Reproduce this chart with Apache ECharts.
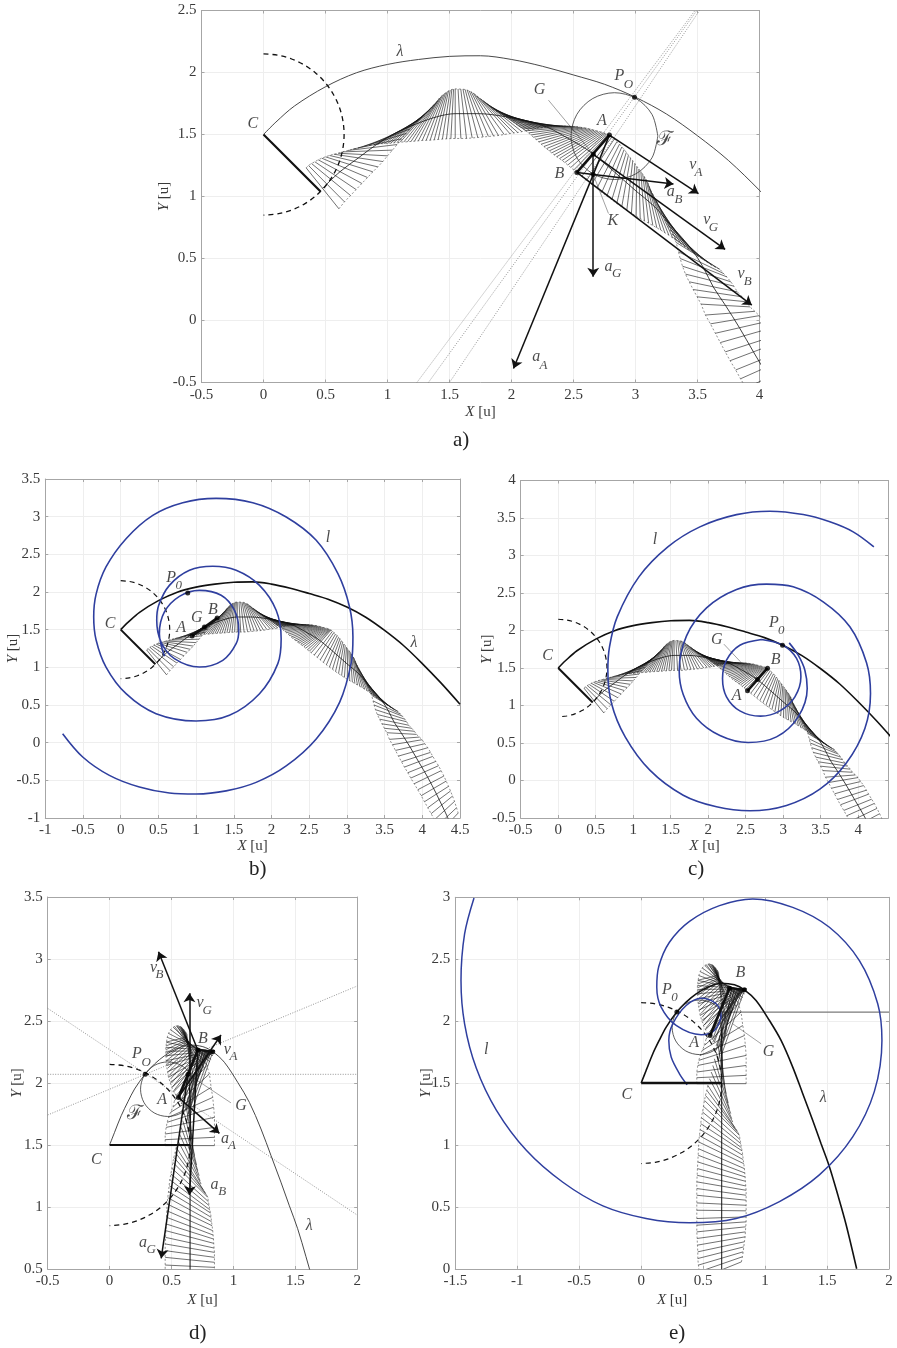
<!DOCTYPE html>
<html><head><meta charset="utf-8">
<style>html,body{margin:0;padding:0;background:#fff}#c{width:897px;height:1348px}</style>
<script src="https://cdn.jsdelivr.net/npm/echarts@6/dist/echarts.min.js"></script>
</head><body><div id="c"></div>
<script>
// ---------- coupler positions, first motion (panels a, b, c) ----------
const band1E1=[[.344,1.231],[.363,1.250],[.387,1.266],[.414,1.280],[.441,1.296],[.470,1.309],[.500,1.320],[.532,1.331],[.567,1.341],[.602,1.349],[.640,1.360],[.680,1.371],[.720,1.382],[.763,1.392],[.806,1.403],[.849,1.411],[.890,1.417],[.918,1.421],[.946,1.425],[.973,1.426],[1.000,1.427],[1.026,1.430],[1.051,1.433],[1.077,1.436],[1.102,1.438],[1.132,1.440],[1.161,1.441],[1.190,1.444],[1.218,1.446],[1.249,1.449],[1.280,1.452],[1.312,1.453],[1.344,1.454],[1.377,1.457],[1.409,1.460],[1.443,1.463],[1.476,1.465],[1.511,1.467],[1.546,1.468],[1.592,1.468],[1.637,1.468],[1.683,1.472],[1.728,1.476],[1.771,1.480],[1.814,1.484],[1.855,1.488],[1.895,1.492],[1.941,1.500],[1.986,1.508],[2.019,1.512],[2.051,1.516],[2.084,1.523],[2.116,1.530],[2.144,1.535],[2.172,1.540],[2.199,1.546],[2.226,1.551],[2.252,1.555],[2.277,1.559],[2.301,1.562],[2.325,1.565],[2.348,1.566],[2.371,1.567],[2.393,1.567],[2.414,1.567],[2.436,1.567],[2.457,1.567],[2.477,1.566],[2.497,1.565],[2.516,1.564],[2.535,1.562],[2.553,1.559],[2.570,1.556],[2.588,1.554],[2.605,1.551],[2.621,1.547],[2.637,1.543],[2.652,1.539],[2.667,1.535],[2.682,1.531],[2.696,1.527],[2.711,1.523],[2.726,1.519],[2.740,1.515],[2.753,1.511],[2.764,1.507],[2.774,1.503],[2.782,1.499],[2.790,1.495],[2.809,1.479],[2.828,1.462],[2.850,1.442],[2.871,1.422],[2.890,1.400],[2.908,1.379],[2.926,1.356],[2.943,1.333],[2.960,1.310],[2.978,1.288],[2.995,1.265],[3.011,1.242],[3.027,1.222],[3.043,1.202],[3.058,1.180],[3.072,1.159],[3.085,1.138],[3.097,1.116],[3.108,1.088],[3.118,1.059],[3.134,1.028],[3.150,.997],[3.167,.963],[3.183,.930],[3.202,.890],[3.220,.849],[3.239,.811],[3.258,.774],[3.277,.735],[3.296,.696],[3.312,.662],[3.328,.629],[3.347,.554],[3.360,.500],[3.379,.438],[3.403,.374],[3.433,.312],[3.465,.250],[3.497,.191],[3.529,.132],[3.564,.044],[3.604,-.027],[3.644,-.103],[3.684,-.178],[3.724,-.253],[3.763,-.324],[3.808,-.399],[3.847,-.470],[3.892,-.545],[3.940,-.625],[3.985,-.704],[4.029,-.784],[4.073,-.864],[4.117,-.943],[4.162,-1.023],[4.206,-1.098],[4.250,-1.173]];
const band1E2=[[.608,.901],[.653,.957],[.702,1.008],[.747,1.056],[.793,1.105],[.839,1.153],[.882,1.199],[.922,1.239],[.962,1.282],[1.000,1.328],[1.040,1.374],[1.078,1.419],[1.113,1.465],[1.150,1.508],[1.185,1.546],[1.218,1.581],[1.250,1.613],[1.266,1.628],[1.282,1.642],[1.298,1.658],[1.314,1.675],[1.329,1.691],[1.344,1.707],[1.358,1.722],[1.371,1.737],[1.385,1.752],[1.398,1.766],[1.409,1.780],[1.419,1.793],[1.431,1.805],[1.443,1.817],[1.456,1.827],[1.468,1.836],[1.480,1.844],[1.492,1.852],[1.506,1.858],[1.519,1.863],[1.533,1.866],[1.546,1.868],[1.569,1.867],[1.591,1.866],[1.609,1.865],[1.626,1.863],[1.643,1.858],[1.659,1.852],[1.675,1.844],[1.691,1.836],[1.707,1.823],[1.723,1.809],[1.739,1.797],[1.755,1.785],[1.772,1.772],[1.788,1.758],[1.804,1.745],[1.820,1.731],[1.838,1.718],[1.855,1.704],[1.875,1.690],[1.895,1.677],[1.915,1.665],[1.935,1.653],[1.955,1.641],[1.976,1.629],[1.996,1.616],[2.016,1.602],[2.036,1.586],[2.056,1.570],[2.076,1.558],[2.097,1.546],[2.117,1.530],[2.137,1.513],[2.157,1.496],[2.177,1.478],[2.198,1.460],[2.220,1.441],[2.240,1.422],[2.261,1.403],[2.282,1.386],[2.304,1.368],[2.324,1.352],[2.344,1.336],[2.365,1.321],[2.387,1.306],[2.408,1.290],[2.430,1.274],[2.454,1.254],[2.478,1.234],[2.502,1.214],[2.527,1.194],[2.567,1.163],[2.607,1.132],[2.647,1.098],[2.688,1.065],[2.728,1.034],[2.769,1.003],[2.809,.974],[2.849,.944],[2.889,.917],[2.930,.890],[2.967,.865],[3.005,.841],[3.038,.822],[3.072,.804],[3.106,.785],[3.140,.766],[3.172,.747],[3.204,.729],[3.236,.708],[3.269,.688],[3.301,.665],[3.333,.643],[3.366,.618],[3.400,.594],[3.436,.567],[3.473,.540],[3.508,.516],[3.543,.492],[3.579,.469],[3.615,.446],[3.649,.428],[3.683,.411],[3.710,.379],[3.736,.352],[3.769,.312],[3.793,.277],[3.822,.231],[3.860,.191],[3.895,.151],[3.923,.110],[3.962,.074],[3.998,.039],[4.033,-.014],[4.073,-.067],[4.109,-.129],[4.139,-.182],[4.179,-.249],[4.215,-.306],[4.250,-.372],[4.286,-.443],[4.317,-.510],[4.348,-.580],[4.374,-.642],[4.401,-.709],[4.427,-.780],[4.454,-.864],[4.476,-.934]];
const band1Mid=[[.476,1.066],[.617,1.200],[.765,1.311],[.917,1.423],[1.070,1.515],[1.236,1.587],[1.406,1.645],[1.546,1.668],[1.736,1.668],[1.952,1.644],[2.130,1.609],[2.297,1.555],[2.449,1.473],[2.556,1.412],[2.658,1.344],[2.838,1.191],[3.008,1.041],[3.150,.922],[3.291,.762],[3.455,.571],[3.548,.426],[3.627,.271],[3.726,.121],[3.838,-.058],[3.951,-.253],[4.071,-.458],[4.188,-.682],[4.294,-.901],[4.363,-1.053]];
// ---------- coupler positions, second motion (panels d, e) ----------
const band2E1=[[.476,-.078],[.468,-.024],[.462,.030],[.457,.083],[.457,.137],[.454,.191],[.452,.245],[.449,.298],[.449,.352],[.449,.406],[.449,.473],[.449,.532],[.449,.594],[.449,.648],[.449,.702],[.452,.755],[.454,.809],[.457,.863],[.460,.917],[.462,.970],[.465,1.024],[.470,1.075],[.476,1.124],[.481,1.172],[.486,1.220],[.495,1.266],[.503,1.312],[.511,1.360],[.519,1.400],[.530,1.441],[.538,1.481],[.551,1.535],[.565,1.589],[.578,1.642],[.591,1.696],[.605,1.750],[.618,1.817],[.632,1.884],[.645,1.952],[.659,2.019],[.685,2.086],[.712,2.140],[.753,2.194],[.793,2.234],[.833,2.253],
 [.449,1.495],[.449,1.543],[.449,1.589],[.457,1.642],[.465,1.683],[.476,1.723],[.492,1.763],[.511,1.804],[.524,1.857],
 [.624,2.395],[.613,2.414],[.599,2.430],[.586,2.446],[.573,2.457],[.556,2.462],[.538,2.462],[.514,2.449],[.492,2.430],[.476,2.400],[.465,2.368],[.460,2.328],[.454,2.288],[.454,2.256],[.454,2.220],[.457,2.180],[.460,2.140],[.468,2.091],[.476,2.046],[.489,2.005],[.503,1.965],[.519,1.930],[.538,1.898],
 [.457,2.33],[.457,2.30],[.457,2.27],[.457,2.24],[.457,2.21],[.46,2.18],[.463,2.15],[.47,2.12],[.475,2.09],[.48,2.06],[.49,2.03],[.50,2.00],[.51,1.97],[.52,1.94],
 [.525,2.456],[.548,2.46],[.565,2.46],[.58,2.45],[.593,2.438],[.606,2.42],
 [.56,1.87],[.575,1.85],[.59,1.83],[.605,1.80],[.62,1.78],[.635,1.75],[.645,1.72],[.655,1.80],[.665,1.85],[.675,1.90],[.685,1.95],[.695,2.0]];
const band2E2=[[.809,.056],[.817,.097],[.823,.137],[.828,.177],[.833,.218],[.839,.258],[.841,.298],[.844,.339],[.847,.379],[.847,.419],[.847,.468],[.847,.513],[.847,.554],[.847,.594],[.847,.634],[.844,.669],[.841,.707],[.839,.742],[.836,.774],[.833,.809],[.828,.849],[.823,.882],[.820,.917],[.815,.952],[.809,.978],[.804,1.011],[.798,1.043],[.793,1.078],[.782,1.099],[.771,1.118],[.753,1.145],[.739,1.185],[.731,1.212],[.723,1.253],[.712,1.293],[.702,1.339],[.685,1.414],[.672,1.481],[.659,1.548],[.645,1.615],[.627,1.696],[.605,1.763],[.578,1.830],[.556,1.884],[.551,1.897],
 [.847,1.495],[.847,1.562],[.847,1.642],[.847,1.723],[.841,1.804],[.833,1.884],[.820,1.965],[.806,2.073],[.785,2.140],
 [.66,2.0],[.68,2.02],[.71,2.05],[.725,2.07],[.74,2.09],[.765,2.12],[.79,2.14],[.81,2.17],[.82,2.19],[.835,2.22],[.84,2.235],[.845,2.25],[.85,2.26],[.85,2.26],[.85,2.26],[.845,2.26],[.845,2.26],[.84,2.26],[.84,2.26],[.84,2.26],[.835,2.26],[.835,2.26],[.83,2.255],
 [.62,2.37],[.625,2.36],[.63,2.35],[.635,2.345],[.64,2.335],[.645,2.33],[.65,2.31],[.655,2.29],[.66,2.27],[.665,2.25],[.67,2.23],[.675,2.2],[.68,2.18],[.69,2.16],
 [.635,2.31],[.64,2.30],[.645,2.30],[.65,2.29],[.65,2.28],[.655,2.27],
 [.72,2.27],[.74,2.27],[.76,2.265],[.78,2.26],[.80,2.26],[.82,2.26],[.835,2.255],[.73,2.265],[.75,2.26],[.77,2.26],[.79,2.26],[.81,2.26]];
const band2Mid=[[.65,-.1],[.65,.5],[.65,1.0],[.65,1.5],[.652,1.7],[.648,1.9],[.64,2.07]];
// ---------- curves ----------
const lambda1=[[0,1.5],[.1,1.6],[.25,1.73],[.5,1.885],[.75,1.998],[1,2.065],[1.25,2.105],[1.5,2.13],[1.75,2.135],[2,2.105],[2.25,2.05],[2.5,1.98],[2.75,1.905],[3,1.80],[3.25,1.665],[3.5,1.49],[3.75,1.29],[4,1.05],[4.25,.79],[4.5,.51]];
const lambda2=[[0,1.5],[.04,1.602],[.094,1.737],[.148,1.849],[.202,1.952],[.288,2.073],[.363,2.153],[.444,2.22],[.538,2.274],[.645,2.306],[.753,2.293],[.833,2.253],[.927,2.167],[1.035,2.005],[1.129,1.844],[1.223,1.629],[1.304,1.414],[1.384,1.2],[1.452,1.01],[1.519,.825],[1.586,.60],[1.653,.36],[1.739,0]];
const crankArc=[[0,2.15],[.113,2.14],[.222,2.111],[.325,2.063],[.418,1.998],[.498,1.918],[.563,1.825],[.611,1.722],[.64,1.613],[.65,1.5],[.64,1.387],[.611,1.278],[.563,1.175],[.498,1.082],[.418,1.002],[.325,.937],[.222,.889],[.113,.86],[0,.85]];
const spiralB=[[-.770,.119],[-.504,-.190],[-.150,-.434],[.248,-.589],[.646,-.668],[1.0,-.681],[1.398,-.640],[1.796,-.527],[2.195,-.309],[2.593,.049],[2.903,.535],[3.058,1.062],[3.080,1.403],[3.035,1.801],[2.881,2.243],[2.593,2.686],[2.195,2.996],[1.752,3.186],[1.265,3.243],[.823,3.186],[.425,3.018],[.071,2.708],[-.195,2.332],[-.327,1.969],[-.358,1.668],[-.327,1.367],[-.195,1.004],[.071,.650],[.469,.385],[1.0,.288],[1.442,.363],[1.841,.650],[2.084,1.049],[2.128,1.381],[2.062,1.757],[1.841,2.088],[1.531,2.288],[1.221,2.341],[.912,2.288],[.646,2.088],[.504,1.823],[.478,1.624],[.535,1.336],[.712,1.115],[1.044,1.004],[1.354,1.093],[1.531,1.314],[1.566,1.5],[1.509,1.757],[1.332,1.956],[1.044,2.022],[.779,1.942],[.580,1.735],[.513,1.447],[.580,1.146]];
const spiralC=[[4.209,3.115],[3.933,3.315],[3.622,3.449],[3.267,3.546],[2.822,3.591],[2.378,3.545],[1.889,3.382],[1.462,3.115],[1.076,2.715],[.787,2.182],[.684,1.782],[.662,1.471],[.711,1.027],[.893,.582],[1.222,.138],[1.667,-.196],[2.111,-.351],[2.556,-.404],[3.044,-.333],[3.489,-.116],[3.844,.236],[4.089,.693],[4.164,1.160],[4.111,1.569],[3.889,2.049],[3.533,2.382],[3.133,2.582],[2.778,2.618],[2.378,2.547],[1.978,2.302],[1.711,1.929],[1.613,1.471],[1.667,1.147],[1.844,.831],[2.156,.600],[2.533,.507],[2.911,.582],[3.2,.849],[3.320,1.227],[3.289,1.471],[3.2,1.671],[3.08,1.835]];
const spiralCInner=[[2.711,1.880],[3.0,1.804],[3.178,1.627],[3.236,1.382],[3.156,1.116],[2.956,.929],[2.698,.858],[2.422,.929],[2.244,1.116],[2.191,1.36],[2.244,1.604],[2.422,1.804],[2.711,1.880]];
const spiralE=[[-1.349,2.995],[-1.425,2.704],[-1.454,2.328],[-1.425,1.978],[-1.331,1.621],[-1.169,1.282],[-.927,.957],[-.632,.699],[-.309,.508],[.040,.406],[.390,.371],[.766,.406],[1.116,.543],[1.438,.758],[1.707,1.065],[1.882,1.433],[1.943,1.844],[1.909,2.14],[1.761,2.489],[1.519,2.758],[1.223,2.919],[.900,2.987],[.632,2.933],[.390,2.806],[.228,2.637],[.142,2.441],[.126,2.274],[.161,2.113],[.282,1.965],[.484,1.890],[.591,1.925],[.645,2.046],[.605,2.14],[.484,2.185],[.363,2.126],[.255,1.978],[.223,1.844],[.242,1.710],[.309,1.575],[.371,1.486]];
const circleA=[[3.18,1.487],[3.133,1.662],[3.005,1.79],[2.83,1.837],[2.655,1.79],[2.527,1.662],[2.48,1.487],[2.527,1.312],[2.655,1.184],[2.83,1.137],[3.005,1.184],[3.133,1.312],[3.18,1.487]];
const circleD=[[.69,1.95],[.661,2.06],[.58,2.141],[.47,2.17],[.36,2.141],[.279,2.06],[.25,1.95],[.279,1.84],[.36,1.759],[.47,1.73],[.58,1.759],[.661,1.84],[.69,1.95]];
// ---------- rigid links ----------
const crank1=[[0,1.5],[.46,1.04]];
const crank2=[[0,1.5],[.65,1.5]];
const barA=[[2.79,1.495],[2.527,1.194]];
const barB=[[.947,1.416],[1.279,1.655]];
const barC=[[2.524,1.196],[2.791,1.498]];
const barD=[[.556,1.884],[.712,2.266]];
const capD=[[.712,2.266],[.833,2.253]];
// ---------- dots ----------
const dotsA=[[2.79,1.495],[2.66,1.34],[2.527,1.194],[2.992,1.801],[2.659,1.177]];
const dotsB=[[.947,1.416],[1.11,1.535],[1.279,1.655],[.889,1.987]];
const dotsC=[[2.524,1.196],[2.658,1.347],[2.791,1.498],[2.991,1.804]];
const dotsD=[[.288,2.07],[.556,1.884],[.634,2.07],[.712,2.266],[.833,2.253]];
const dotsE=[[.288,2.073],[.556,1.884],[.712,2.266],[.833,2.253]];
// ---------- arrows [from, to] ----------
const arrowsA=[[[2.79,1.495],[3.508,1.024]],[[2.66,1.34],[3.723,.573]],[[2.527,1.194],[3.938,.124]],[[2.79,1.495],[2.016,-.387]],[[2.659,1.34],[2.659,.352]],[[2.527,1.194],[3.306,1.1]]];
const arrowsD=[[[.556,1.884],[.90,2.387]],[[.712,2.266],[.395,3.059]],[[.645,2.07],[.645,2.723]],[[.556,1.884],[.887,1.594]],[[.712,2.266],[.645,1.097]],[[.634,2.07],[.417,.586]]];
// ---------- thin grey construction lines ----------
const rayA1=[[1.237,-.5],[3.48,2.5]];
const rayA2=[[1.33,-.5],[3.495,2.5]];
const rayA3=[[1.5,-.5],[3.516,2.5]];
const leaderAG=[[2.298,1.777],[2.66,1.34]];
const leaderAK=[[2.659,1.177],[2.782,.863]];
const leaderCG=[[2.209,1.818],[2.431,1.582]];
const rayD1=[[-.5,2.07],[2,2.07]];
const rayD2=[[-.5,1.742],[2,2.782]];
const rayD3=[[-.5,2.602],[2,.935]];
const leaderDG=[[.634,2.07],[.98,1.84]];
const rayE=[[.65,2.073],[2,2.073]];
const leaderEG=[[.739,1.978],[.968,1.817]];
// ---------- labels [x, y, text] ----------
const textA=[[1.10,2.17,'λ'],[-.085,1.59,'C'],[2.871,1.973,'P'],[2.226,1.858,'G'],[2.728,1.61,'A'],[2.387,1.185,'B'],[3.462,1.253,'v'],[3.285,1.038,'a'],[2.817,.804,'K'],[3.575,.815,'v'],[2.782,.433,'a'],[3.852,.379,'v'],[2.199,-.293,'a']];
const subA=[[2.943,1.903,'O'],[3.508,1.194,'A'],[3.347,.976,'B'],[3.629,.75,'G'],[2.849,.379,'G'],[3.906,.317,'B'],[2.258,-.36,'A']];
const scriptA=[[3.24,1.454,'ℱ']];
const textB=[[2.748,2.717,'l'],[.668,2.19,'P'],[-.142,1.58,'C'],[1.009,1.655,'G'],[.80,1.522,'A'],[1.221,1.77,'B'],[3.889,1.323,'λ']];
const subB=[[.77,2.08,'0']];
const textC=[[1.289,3.213,'l'],[-.142,1.667,'C'],[2.875,2.107,'P'],[2.115,1.871,'G'],[2.898,1.613,'B'],[2.378,1.129,'A']];
const subC=[[2.973,2.004,'0']];
const textD=[[.355,2.933,'v'],[.731,2.648,'v'],[.753,2.36,'B'],[.951,2.271,'v'],[.22,2.234,'P'],[.425,1.863,'A'],[1.062,1.814,'G'],[.933,1.554,'a'],[-.108,1.379,'C'],[.847,1.183,'a'],[1.613,.847,'λ'],[.269,.715,'a']];
const subD=[[.403,2.876,'B'],[.788,2.583,'G'],[1.0,2.212,'A'],[.296,2.164,'O'],[.989,1.492,'A'],[.909,1.124,'B'],[.336,.659,'G']];
const scriptD=[[.202,1.755,'ℱ']];
const textE=[[-1.25,1.769,'l'],[.801,2.387,'B'],[.207,2.255,'P'],[.427,1.822,'A'],[1.027,1.755,'G'],[-.116,1.406,'C'],[1.47,1.382,'λ']];
const subE=[[.269,2.188,'0']];

const SERIF='"Liberation Serif","Times New Roman",serif';
const BLUE='#2f3f9f', INK='#111', GREY='#7a7a7a', TXT='#3a3a3a';
const grids=[
 {left:201.5,top:10.5,width:558,height:372,x:[-.5,4],y:[-.5,2.5],nameX:22,nameY:30},
 {left:45.3,top:479,width:414.7,height:339,x:[-1,4.5],y:[-1,3.5],nameX:21,nameY:25},
 {left:520.7,top:480.5,width:367.5,height:337.5,x:[-.5,4.4],y:[-.5,4],nameX:21,nameY:26},
 {left:47.7,top:897,width:309.5,height:372,x:[-.5,2],y:[.5,3.5],nameX:24,nameY:23},
 {left:455.3,top:897.3,width:433.7,height:371.5,x:[-1.5,2],y:[0,3],nameX:24,nameY:22}
];
const axisName=a=>({nameLocation:'middle',nameMoveOverlap:false,nameTextStyle:{fontFamily:SERIF,fontSize:15,color:TXT,rich:{i:{fontFamily:SERIF,fontStyle:'italic',fontSize:15,color:TXT},n:{fontFamily:SERIF,fontSize:15,color:TXT}}},name:`{i|${a}} {n|[u]}`});
const xAxis=[],yAxis=[],gridOpt=[];
grids.forEach((g,i)=>{
 gridOpt.push({left:g.left,top:g.top,width:g.width,height:g.height,show:false,containLabel:false});
 const common={type:'value',gridIndex:i,interval:.5,axisLine:{show:true,onZero:false,lineStyle:{color:'#a6a6a6',width:1}},axisTick:{show:true,inside:true,length:3,lineStyle:{color:'#a6a6a6'}},
  splitLine:{show:true,lineStyle:{color:'#eeeeee',width:1}},axisLabel:{show:true,fontFamily:SERIF,fontSize:15,color:TXT,margin:5},animation:false};
 xAxis.push(Object.assign({},common,axisName('X'),{position:'bottom',min:g.x[0],max:g.x[1],nameGap:g.nameX,
   axisLabel:Object.assign({},common.axisLabel,{showMaxLabel:i!==2,showMinLabel:true})}));
 yAxis.push(Object.assign({},common,axisName('Y'),{position:'left',min:g.y[0],max:g.y[1],nameGap:g.nameY,nameRotate:90,
   axisLabel:Object.assign({},common.axisLabel,{showMaxLabel:true,showMinLabel:true})}));
});
// mirror axes drawing the top and right frame with their ticks
grids.forEach((g,i)=>{
 xAxis.push({type:'value',gridIndex:i,position:'top',min:g.x[0],max:g.x[1],interval:.5,axisLine:{show:true,onZero:false,lineStyle:{color:'#a6a6a6'}},axisTick:{show:true,inside:true,length:3,lineStyle:{color:'#a6a6a6'}},axisLabel:{show:false},splitLine:{show:false}});
 yAxis.push({type:'value',gridIndex:i,position:'right',min:g.y[0],max:g.y[1],interval:.5,axisLine:{show:true,onZero:false,lineStyle:{color:'#a6a6a6'}},axisTick:{show:true,inside:true,length:3,lineStyle:{color:'#a6a6a6'}},axisLabel:{show:false},splitLine:{show:false}});
});
const SM=.33;
const series=[];
const line=(p,data,color,width,o={})=>series.push({type:'line',xAxisIndex:p,yAxisIndex:p,data,symbol:'none',showSymbol:false,silent:true,animation:false,clip:true,connectNulls:false,
  lineStyle:{color,width,type:o.dash||'solid'},smooth:o.smooth?SM:false,z:o.z||3});
const hatch=(p,e1,e2)=>{const d=[];e1.forEach((a,i)=>{d.push(a,e2[i],[NaN,NaN]);});line(p,d,'#111',.6,{z:2});};
const edge=(p,d)=>line(p,d,'#333',.55,{dash:[2,2],z:2});
const dots=(p,data)=>series.push({type:'scatter',xAxisIndex:p,yAxisIndex:p,data,symbol:'circle',symbolSize:5,itemStyle:{color:'#000'},silent:true,animation:false,z:8});
const arrows=(p,data)=>series.push({type:'lines',coordinateSystem:'cartesian2d',xAxisIndex:p,yAxisIndex:p,data:data.map(c=>({coords:c})),symbol:['none','arrow'],symbolSize:[0,9],lineStyle:{color:INK,width:1.5,opacity:1,curveness:0},silent:true,animation:false,z:7});
const labels=(p,data,size,style='italic',family=SERIF)=>series.push({type:'scatter',xAxisIndex:p,yAxisIndex:p,data,encode:{x:0,y:1},symbolSize:1,itemStyle:{color:'rgba(0,0,0,0)'},silent:true,animation:false,z:10,
  label:{show:true,position:'inside',formatter:q=>q.value[2],fontFamily:family,fontStyle:style,fontSize:size,color:'#1c1c1c'}});
const gray=(p,d,w=.8,dash=[1,1.5])=>line(p,d,GREY,w,{dash,z:2});
const arc={dash:[5,4],z:4,smooth:true};
const band1=p=>{hatch(p,band1E1,band1E2);edge(p,band1E1);edge(p,band1E2);line(p,band1Mid,'#111',.8,{smooth:true});};
const band2=p=>{hatch(p,band2E1,band2E2);
  edge(p,band2E1.slice(0,31));edge(p,band2E2.slice(0,31));edge(p,band2E1.slice(45,54));edge(p,band2E2.slice(45,54));edge(p,band2E1.slice(54,77));
  line(p,band2Mid,'#111',1);};

// panel a
[rayA1,rayA2,rayA3].forEach(r=>gray(0,r));
gray(0,leaderAG,.7,'solid');gray(0,leaderAK,.7,'solid');
band1(0);
line(0,lambda1,'#333',.9,{smooth:true});line(0,crankArc,INK,1.3,arc);
line(0,circleA,'#333',.8,{smooth:true});line(0,crank1,INK,2.2,{z:5});line(0,barA,INK,2.6,{z:6});
arrows(0,arrowsA);dots(0,dotsA);labels(0,textA,16);labels(0,subA,13);labels(0,scriptA,20,'normal','"DejaVu Serif",serif');
// panel b
band1(1);
line(1,lambda1,INK,1.6,{smooth:true});line(1,crankArc,INK,1.2,arc);
line(1,spiralB,BLUE,1.6,{smooth:true,z:5});line(1,crank1,INK,2,{z:5});line(1,barB,INK,2.6,{z:6});
dots(1,dotsB);labels(1,textB,16);labels(1,subB,13);
// panel c
gray(2,leaderCG,.7,'solid');
band1(2);
line(2,lambda1,INK,1.6,{smooth:true});line(2,crankArc,INK,1.2,arc);
line(2,spiralC,BLUE,1.6,{smooth:true,z:5});line(2,spiralCInner,BLUE,1.6,{smooth:true,z:5});line(2,crank1,INK,2,{z:5});line(2,barC,INK,2.6,{z:6});
dots(2,dotsC);labels(2,textC,16);labels(2,subC,13);
// panel d
[rayD1,rayD2,rayD3].forEach(r=>gray(3,r));gray(3,leaderDG,.7,'solid');
band2(3);
line(3,lambda2,'#333',.9,{smooth:true});line(3,crankArc,INK,1.3,arc);
line(3,circleD,'#333',.8,{smooth:true});line(3,crank2,INK,2.2,{z:5});line(3,barD,INK,2.6,{z:6});line(3,capD,INK,2.2,{z:6});
arrows(3,arrowsD);dots(3,dotsD);labels(3,textD,16);labels(3,subD,13);labels(3,scriptD,20,'normal','"DejaVu Serif",serif');
// panel e
gray(4,rayE,1.2,'solid');gray(4,leaderEG,.7,'solid');
band2(4);
line(4,lambda2,INK,1.6,{smooth:true});line(4,crankArc,INK,1.2,arc);
line(4,circleD,'#333',.8,{smooth:true});line(4,spiralE,BLUE,1.5,{smooth:true,z:5});line(4,crank2,INK,2.4,{z:5});line(4,barD,INK,2.6,{z:6});line(4,capD,INK,2.2,{z:6});
dots(4,dotsE);labels(4,textE,16);labels(4,subE,13);

const cap=(t,x,y)=>({type:'text',left:x,top:y,silent:true,style:{text:t,fontFamily:SERIF,fontSize:21,fill:'#222'}});
const chart=echarts.init(document.getElementById('c'),null,{renderer:'canvas'});
chart.setOption({animation:false,backgroundColor:'#fff',grid:gridOpt,xAxis,yAxis,series,
 graphic:[cap('a)',453,430),cap('b)',249,859),cap('c)',688,859),cap('d)',189,1323),cap('e)',669,1323)]});
</script></body></html>
